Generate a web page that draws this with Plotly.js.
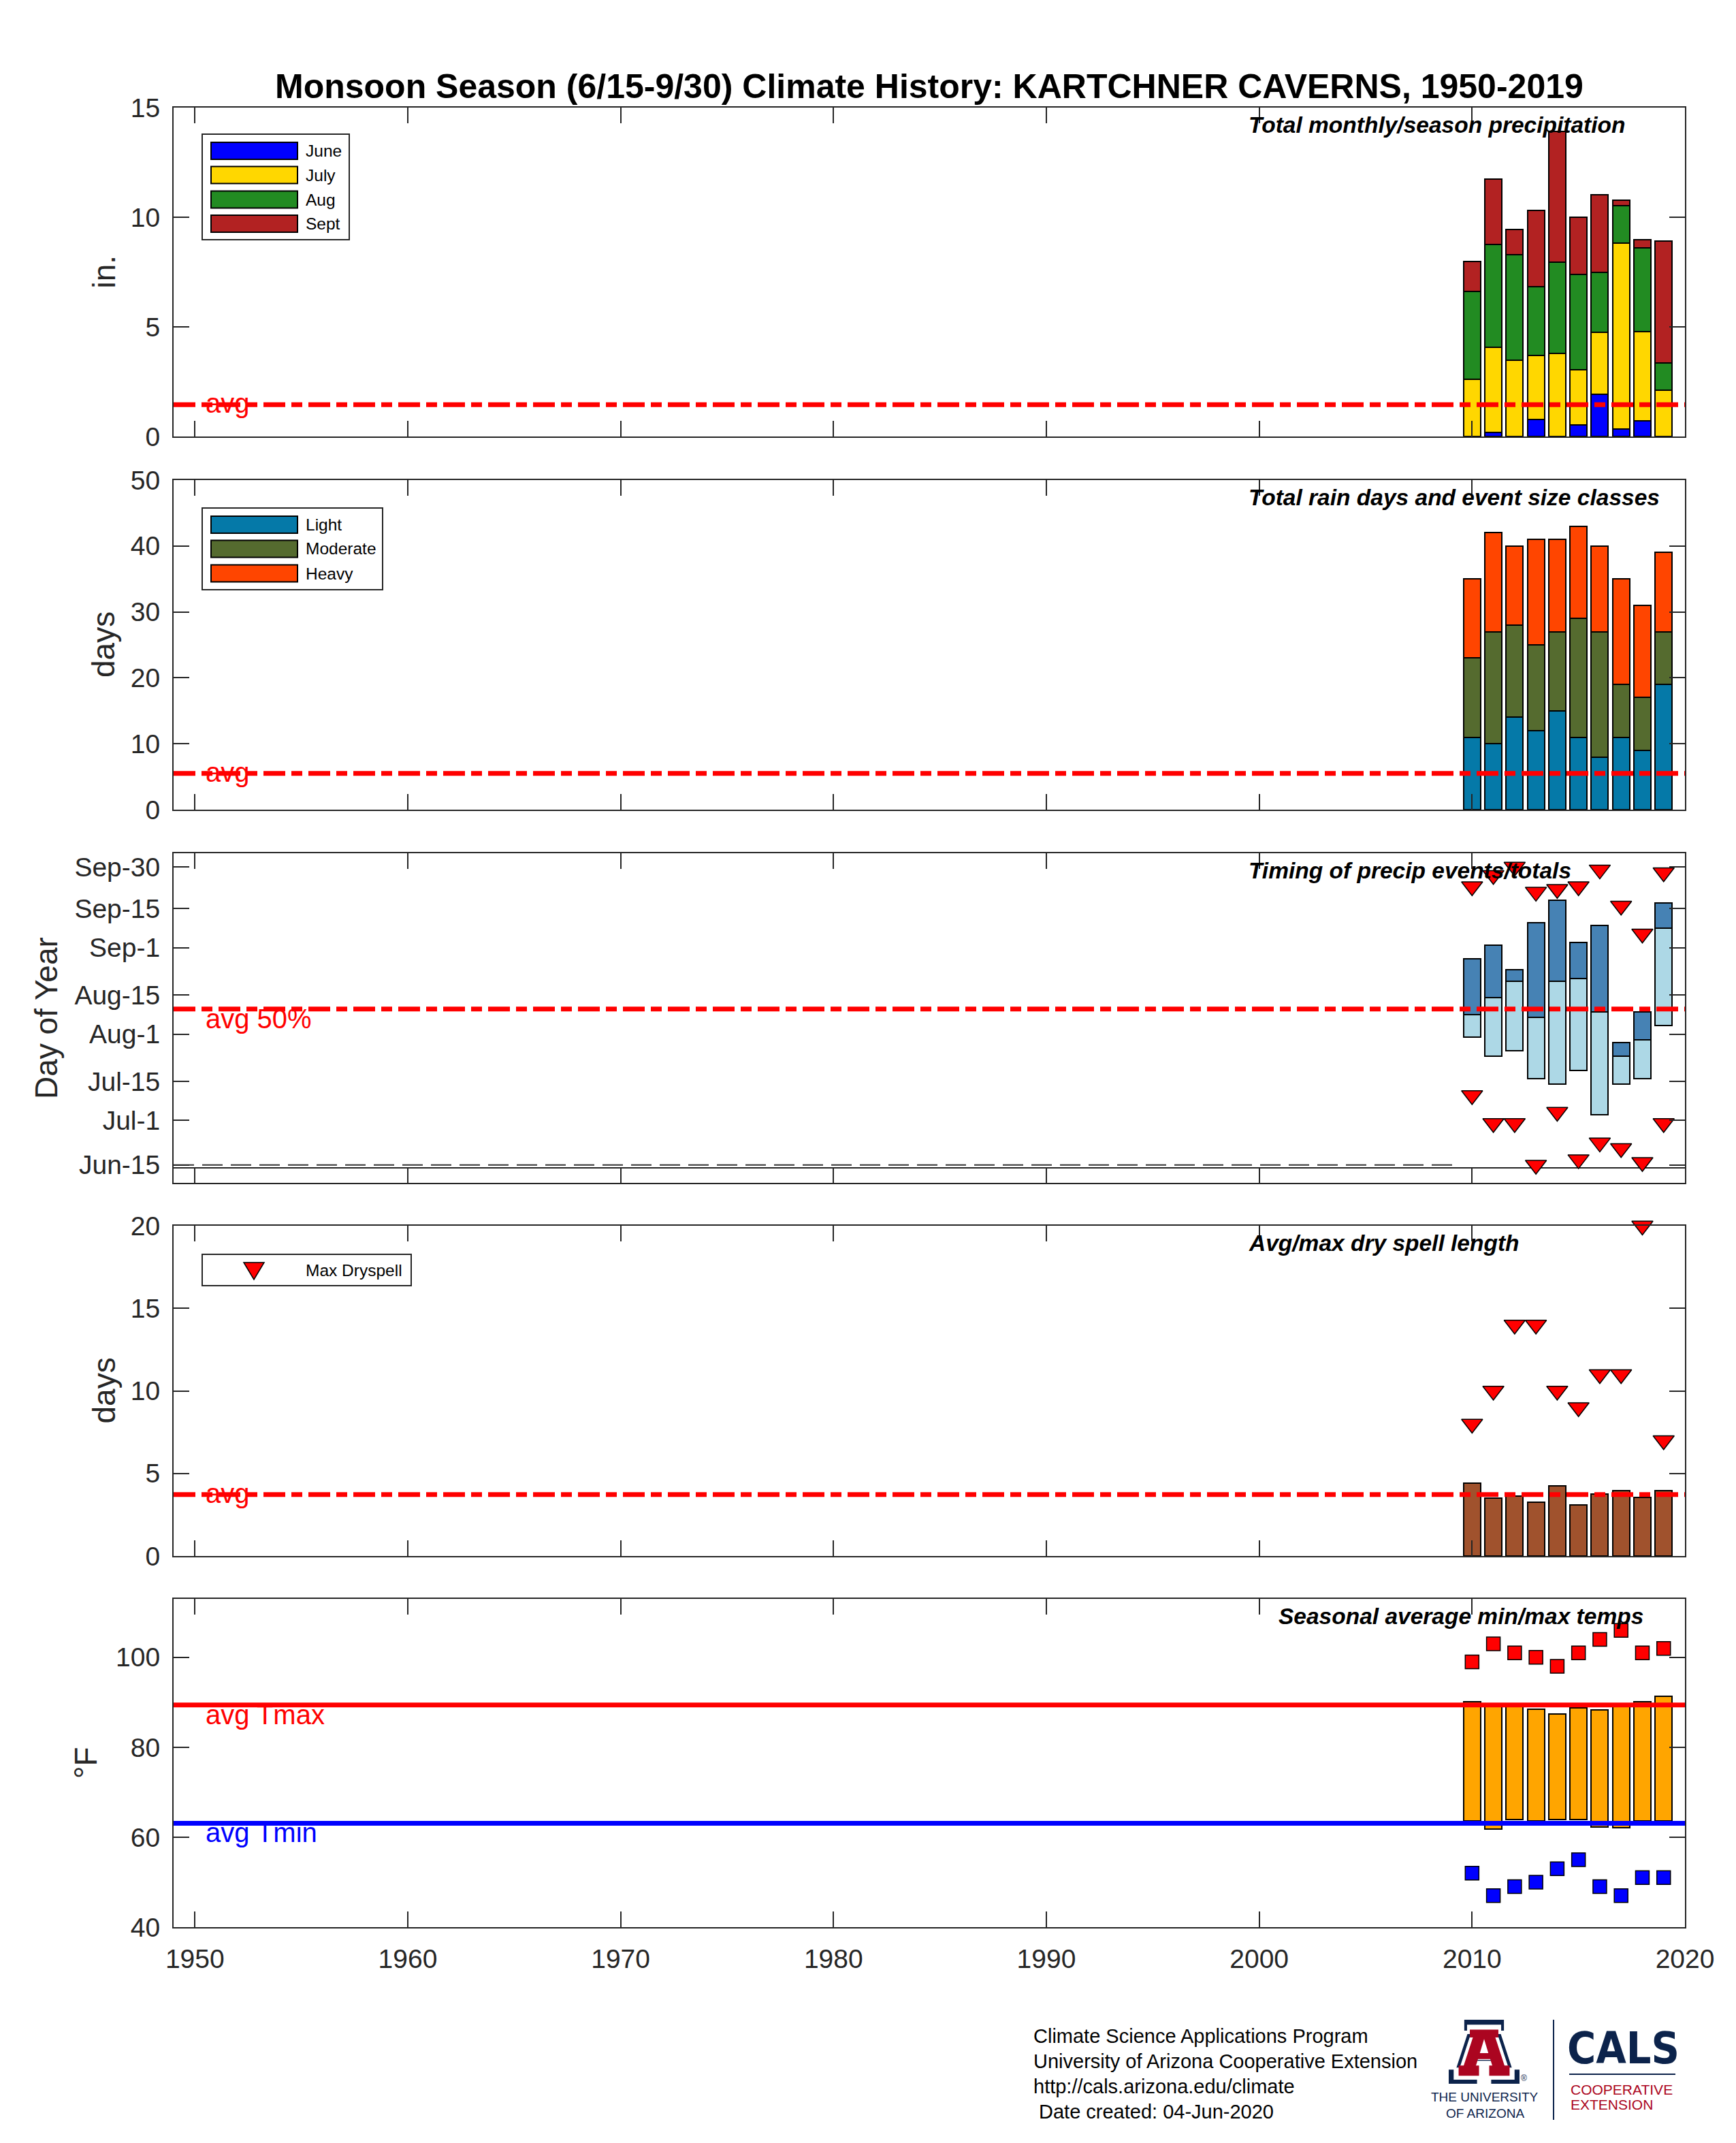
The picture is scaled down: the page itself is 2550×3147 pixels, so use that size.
<!DOCTYPE html>
<html><head><meta charset="utf-8">
<script src="https://cdn.plot.ly/plotly-3.0.1.min.js"></script>
<style>html,body{margin:0;padding:0;background:#fff}#chart{width:2550px;height:3147px}</style>
</head><body><div id="chart"></div>
<script>
// ---------------- DATA ----------------
const years = [2010,2011,2012,2013,2014,2015,2016,2017,2018,2019];
const xTickVals = [1950,1960,1970,1980,1990,2000,2010,2020];

const precipJune = [0,0.18,0,0.77,0,0.54,1.93,0.33,0.72,0];
const precipJuly = [2.61,3.90,3.48,2.92,3.79,2.50,2.81,8.49,4.06,2.11];
const precipAug  = [4.02,4.68,4.80,3.14,4.17,4.36,2.74,1.72,3.83,1.24];
const precipSept = [1.36,2.99,1.17,3.48,5.96,2.61,3.53,0.24,0.35,5.55];
const precipAvg = 1.45;

const daysLight    = [11,10,14,12,15,11,8,11,9,19];
const daysModerate = [12,17,14,13,12,18,19,8,8,8];
const daysHeavy    = [12,15,12,16,14,14,13,16,14,12];
const rainDaysAvg = 5.5;

const timing25 = [212,205,207,197,195,200,184,195,197,216];
const timing50 = [220,226,232,219,232,233,221,205,211,251];
const timing75 = [240,245,236,253,261,246,252,210,221,260];
const firstRain = [191,181,181,166,185,168,174,172,167,181];
const lastRain  = [266,270,273,264,265,266,272,259,249,271];
const timingAvg50 = 222;
const dateTickVals = [166,182,196,213,227,244,258,273];
const dateTickText = ['Jun-15','Jul-1','Jul-15','Aug-1','Aug-15','Sep-1','Sep-15','Sep-30'];
const noDataSpan = [1949, 2009.4];
const jun15Line = 166;
const seasonStartLine = 165;

const drySpellAvg = [4.42,3.52,3.63,3.26,4.23,3.08,3.76,3.97,3.56,3.97];
const drySpellMax = [8,10,14,14,10,9,11,11,20,7];
const drySpellAvgAll = 3.72;

const tminSeason = [63.7,61.8,64.0,63.7,63.9,63.9,62.2,62.1,63.6,63.6];
const tmaxSeason = [90.1,89.2,89.2,88.4,87.4,88.7,88.3,89.2,90.1,91.3];
const tmaxExtreme = [99,103,101,100,98,101,104,106,101,102];
const tminExtreme = [52,47,49,50,53,55,49,47,51,51];
const tmaxAvg = 89.4, tminAvg = 63.1;
const xRange = [1949, 2020];

// ---------------- STYLE / LAYOUT HELPERS ----------------
const FONT = '"Liberation Sans", Arial, Helvetica, sans-serif';
const AX = '#262626';
const L = 255, R = 2475, T = 158, B = 2830, W = R - L, H = B - T;
const px = x => (x - L) / W, py = y => (B - y) / H;
const panelPx = [[158,641],[705,1189],[1253,1737],[1800,2285],[2348,2830]];
const dom = panelPx.map(([t,b]) => [py(b), py(t)]);
const AVGDASH = '32px,9px,16px,9px';
const BARLINE = {color:'#000', width:2};

function xa(i){ return 'x' + (i ? i+1 : ''); }
function ya(i){ return 'y' + (i ? i+1 : ''); }

const traces = [];
function bar(i, y, color, base){
  const t = {type:'bar', x:years, y:y, width:0.8, xaxis:xa(i), yaxis:ya(i),
    marker:{color:color, line:BARLINE}, showlegend:false, hoverinfo:'skip'};
  if (base) t.base = base;
  traces.push(t);
}
function hline(i, xs, yv, color, width, dash){
  traces.push({type:'scatter', mode:'lines', x:xs, y:xs.map(()=>yv), xaxis:xa(i), yaxis:ya(i),
    line:{color:color, width:width, dash:dash||'solid'}, showlegend:false, hoverinfo:'skip'});
}
function markers(i, y, symbol, size, color){
  traces.push({type:'scatter', mode:'markers', x:years, y:y, xaxis:xa(i), yaxis:ya(i),
    marker:{symbol:symbol, size:size, color:color, line:{color:'#000', width:1.5}},
    showlegend:false, hoverinfo:'skip', cliponaxis:false});
}

// Panel 1
bar(0, precipJune, '#0000FF');
bar(0, precipJuly, '#FFD700');
bar(0, precipAug, '#228B22');
bar(0, precipSept, '#B22222');
hline(0, xRange, precipAvg, '#FF0000', 7, AVGDASH);
// Panel 2
bar(1, daysLight, '#0579A8');
bar(1, daysModerate, '#556B2F');
bar(1, daysHeavy, '#FF4500');
hline(1, xRange, rainDaysAvg, '#FF0000', 7, AVGDASH);
// Panel 3
hline(2, noDataSpan, jun15Line, '#333333', 2, '30px,12px');
hline(2, xRange, seasonStartLine, AX, 2);
bar(2, timing50.map((v,k)=>v - timing25[k]), '#ADD8E6', timing25);
bar(2, timing75.map((v,k)=>v - timing50[k]), '#4682B4', timing50);
hline(2, xRange, timingAvg50, '#FF0000', 7, AVGDASH);
markers(2, firstRain, 'triangle-down', 27, '#FF0000');
markers(2, lastRain, 'triangle-down', 27, '#FF0000');
// Panel 4
bar(3, drySpellAvg, '#A0522D');
hline(3, xRange, drySpellAvgAll, '#FF0000', 7, AVGDASH);
markers(3, drySpellMax, 'triangle-down', 27, '#FF0000');
// Panel 5
bar(4, tmaxSeason.map((v,k)=>v - tminSeason[k]), '#FFA500', tminSeason);
hline(4, xRange, tmaxAvg, '#FF0000', 7);
hline(4, xRange, tminAvg, '#0000FF', 7);
markers(4, tmaxExtreme, 'square', 20, '#FF0000');
markers(4, tminExtreme, 'square', 20, '#0000FF');

const layout = {
  width:2550, height:3147, paper_bgcolor:'#fff', plot_bgcolor:'#fff',
  margin:{l:L, r:2550-R, t:T, b:3147-B}, barmode:'stack', showlegend:false,
  font:{family:FONT, color:AX},
  annotations:[], shapes:[]
};
const yRanges = [[0,15],[0,50],[159.6,277.9],[0,20],[40,113]];
const yTicks = [[0,5,10,15],[0,10,20,30,40,50],dateTickVals,[0,5,10,15,20],[40,60,80,100]];
for (let i=0;i<5;i++){
  layout['xaxis'+(i?i+1:'')] = {domain:[0,1], anchor:ya(i), range:xRange, tickvals:xTickVals,
    ticks:'inside', ticklen:23, tickwidth:2, tickcolor:AX, showline:true, linecolor:AX, linewidth:2,
    mirror:'ticks', showgrid:false, zeroline:false, showticklabels:i===4,
    tickfont:{family:FONT, size:39, color:AX}, ticklabelstandoff:11, fixedrange:true};
  const y = {domain:dom[i], anchor:xa(i), range:yRanges[i], tickvals:yTicks[i],
    ticks:'inside', ticklen:23, tickwidth:2, tickcolor:AX, showline:true, linecolor:AX, linewidth:2,
    mirror:'ticks', showgrid:false, zeroline:false,
    tickfont:{family:FONT, size:39, color:AX}, ticklabelstandoff:10, fixedrange:true};
  if (i===2) y.ticktext = dateTickText;
  layout['yaxis'+(i?i+1:'')] = y;
}

const ann = layout.annotations, shp = layout.shapes;
function txt(o){ ann.push(Object.assign({showarrow:false, font:{family:FONT, size:24, color:'#000'}}, o)); }

// Title
txt({xref:'paper', yref:'paper', x:0.5, y:py(127), xanchor:'center', yanchor:'middle',
  text:'<b>Monsoon Season (6/15-9/30) Climate History: KARTCHNER CAVERNS, 1950-2019</b>',
  font:{family:FONT, size:50, color:'#000'}});

// Y-axis titles
const yTitles = [['in.',152],['days',152],['Day of Year',68],['days',152],['°F',126]];
yTitles.forEach(([t,x],i)=>{
  txt({xref:'paper', yref:'paper', x:px(x), y:(dom[i][0]+dom[i][1])/2, xanchor:'center', yanchor:'middle',
    textangle:-90, text:t, font:{family:FONT, size:46, color:AX}});
});

// Panel subtitles
const subs = ['Total monthly/season precipitation','Total rain days and event size classes',
  'Timing of precip events/totals','Avg/max dry spell length','Seasonal average min/max temps'];
const subX = [1999.45,1999.45,1999.45,1999.45,2000.85];
subs.forEach((t,i)=>{
  txt({xref:xa(i), yref:ya(i)+' domain', x:subX[i], y:1, yshift:-25, xanchor:'left', yanchor:'middle',
    text:'<b><i>'+t+'</i></b>', font:{family:FONT, size:33.5, color:'#000'}});
});

// avg labels
const avgLabels = [[0,precipAvg,'avg',2],[1,rainDaysAvg,'avg',2],[2,timingAvg50,'avg 50%',-14],
  [3,drySpellAvgAll,'avg',2],[4,tmaxAvg,'avg Tmax',-14],[4,tminAvg,'avg Tmin',-14]];
avgLabels.forEach(([i,v,t,s])=>{
  txt({xref:xa(i), yref:ya(i), x:1950.45, y:v, yshift:s, xanchor:'left', yanchor:'middle', text:t,
    font:{family:FONT, size:40, color:t==='avg Tmin'?'#0000FF':'#FF0000'}});
});

// Legends (drawn as boxes + swatches)
function rectPx(x0,y0,x1,y1,fill,lc,lw){
  shp.push({type:'rect', xref:'paper', yref:'paper', x0:px(x0), x1:px(x1), y0:py(y1), y1:py(y0),
    fillcolor:fill, line:{color:lc, width:lw}, layer:'above'});
}
function legend(box, items){
  rectPx(box[0],box[1],box[2],box[3],'#fff',AX,2);
  items.forEach(([label,color,yc])=>{
    rectPx(310, yc-12.5, 437, yc+12.5, color, '#000', 2);
    txt({xref:'paper', yref:'paper', x:px(447), y:py(yc), xanchor:'left', yanchor:'middle', text:label,
      font:{family:FONT, size:24.5, color:'#000'}});
  });
}
legend([297,197,513,352], [['June','#0000FF',221.5],['July','#FFD700',257],['Aug','#228B22',293],['Sept','#B22222',328.5]]);
legend([297,746,562,866], [['Light','#0579A8',770.5],['Moderate','#556B2F',806],['Heavy','#FF4500',842]]);
rectPx(297,1842,604,1888,'#fff',AX,2);
shp.push({type:'path', xref:'paper', yref:'paper', layer:'above',
  path:'M'+px(358)+','+py(1854)+' L'+px(388)+','+py(1854)+' L'+px(373)+','+py(1879)+' Z',
  fillcolor:'#FF0000', line:{color:'#000', width:1.5}});
txt({xref:'paper', yref:'paper', x:px(447), y:py(1865), xanchor:'left', yanchor:'middle', text:'Max Dryspell',
  font:{family:FONT, size:24.5, color:'#000'}});

// Footer text
const footer = ['Climate Science Applications Program','University of Arizona Cooperative Extension',
  'http://cals.arizona.edu/climate','Date created: 04-Jun-2020'];
const footerY = [2990,3027,3064,3101];
footer.forEach((t,k)=>{
  txt({xref:'paper', yref:'paper', x:px(k===3?1524:1516), y:py(footerY[k]), xanchor:'left', yanchor:'middle',
    text:t, font:{family:FONT, size:29, color:'#000'}});
});

// Logo (University of Arizona "A" + CALS)
const NAVY = '#0C234B', UARED = '#AB0520';
const aShape = [[0.22,0],[0.78,0],[0.78,0.17],[0.72,0.17],[0.90,0.78],[1,0.78],[1,1],[0.60,1],[0.60,0.78],
  [0.66,0.78],[0.62,0.64],[0.38,0.64],[0.34,0.78],[0.40,0.78],[0.40,1],[0,1],[0,0.78],[0.10,0.78],[0.28,0.17],[0.22,0.17]];
const aBox = {x:2128, y:2966, w:104, h:94};
function polyPath(pts, s, cy){
  return pts.map((p,k)=>{
    const u = 0.5 + (p[0]-0.5)*s, v = cy + (p[1]-cy)*s;
    return (k?'L':'M') + px(aBox.x + u*aBox.w) + ',' + py(aBox.y + v*aBox.h);
  }).join(' ') + ' Z';
}
shp.push({type:'path', xref:'paper', yref:'paper', path:polyPath(aShape,1,0.55), fillcolor:NAVY, line:{width:0}});
shp.push({type:'path', xref:'paper', yref:'paper', path:polyPath(aShape,0.86,0.55), fillcolor:'#fff', line:{width:0}});
shp.push({type:'path', xref:'paper', yref:'paper', path:polyPath(aShape,0.72,0.55), fillcolor:UARED, line:{width:0}});
shp.push({type:'path', xref:'paper', yref:'paper', path:polyPath([[0.44,0.52],[0.56,0.52],[0.5,0.30]],1,0.55), fillcolor:'#fff', line:{width:0}});
txt({xref:'paper', yref:'paper', x:px(2238), y:py(3052), xanchor:'center', yanchor:'middle', text:'®', font:{family:FONT, size:12, color:NAVY}});
txt({xref:'paper', yref:'paper', x:px(2181), y:py(3080), xanchor:'center', yanchor:'middle', text:'THE UNIVERSITY', font:{family:FONT, size:19, color:NAVY}});
txt({xref:'paper', yref:'paper', x:px(2181), y:py(3103), xanchor:'center', yanchor:'middle', text:'OF ARIZONA', font:{family:FONT, size:19, color:NAVY}});
shp.push({type:'line', xref:'paper', yref:'paper', x0:px(2282), x1:px(2282), y0:py(2966), y1:py(3113), line:{color:NAVY, width:2}});
txt({xref:'paper', yref:'paper', x:px(2300), y:py(3008), xanchor:'left', yanchor:'middle', text:'<b>CALS</b>',
  font:{family:'"Liberation Sans Narrow", "DejaVu Sans Condensed", "Liberation Sans", sans-serif', size:64, color:NAVY}});
shp.push({type:'line', xref:'paper', yref:'paper', x0:px(2305), x1:px(2461), y0:py(3046), y1:py(3046), line:{color:NAVY, width:2}});
txt({xref:'paper', yref:'paper', x:px(2305), y:py(3068), xanchor:'left', yanchor:'middle', text:'COOPERATIVE', font:{family:FONT, size:21, color:UARED}});
txt({xref:'paper', yref:'paper', x:px(2305), y:py(3090), xanchor:'left', yanchor:'middle', text:'EXTENSION', font:{family:FONT, size:21, color:UARED}});

Plotly.newPlot('chart', traces, layout, {staticPlot:true, displayModeBar:false});
</script>
</body></html>
